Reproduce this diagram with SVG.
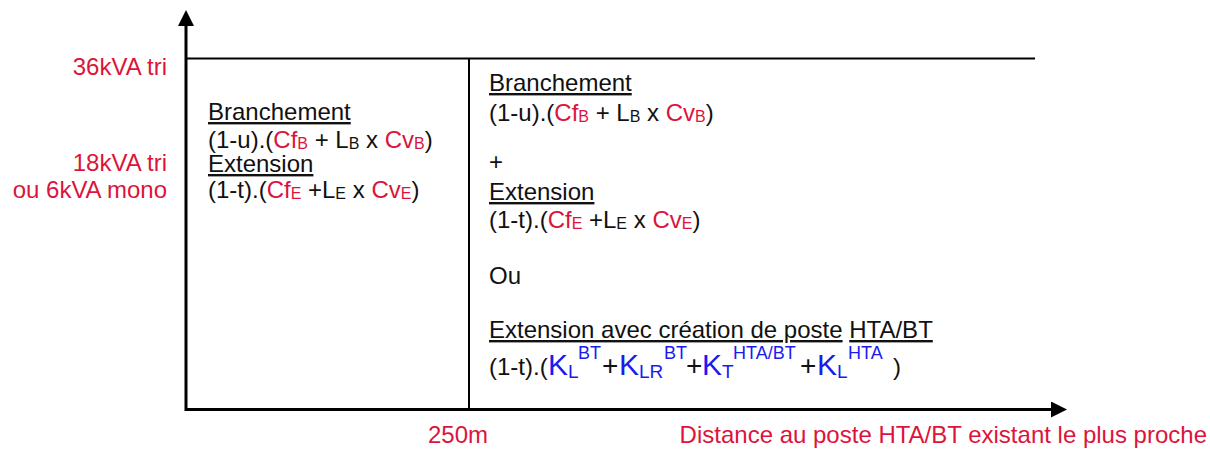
<svg xmlns="http://www.w3.org/2000/svg" width="1210" height="449" viewBox="0 0 1210 449">
<style>
text{font-family:"Liberation Sans",Arial,sans-serif;font-size:24px;fill:#111}
.r{fill:#DC143C}
.b{fill:#1a1af0}
.s{font-size:16px}
.sk{font-size:19px}
.ss{font-size:18px}
.k{font-size:30px}
.p{font-size:28px}
.u{text-decoration:underline}
.ax{stroke:#000;stroke-width:3;fill:none}
.ln{stroke:#000;stroke-width:2;fill:none}
</style>
<defs>
<marker id="ah" viewBox="0 0 16 16" refX="0" refY="8" markerWidth="16" markerHeight="16" markerUnits="userSpaceOnUse" orient="auto">
<path d="M0,0 L16,8 L0,16 Z" fill="#000"/>
</marker>
</defs>
<g id="connectors">
<line class="ax" x1="186" y1="411" x2="186" y2="26" marker-end="url(#ah)"/>
<line class="ax" x1="185" y1="409.5" x2="1051" y2="409.5" marker-end="url(#ah)"/>
<line class="ln" x1="187" y1="58.5" x2="1035" y2="58.5"/>
<line class="ln" x1="469" y1="58" x2="469" y2="409"/>
</g>
<g id="y-labels">
<text class="r" x="167" y="75" text-anchor="end">36kVA tri</text>
<text class="r" x="167" y="171" text-anchor="end">18kVA tri</text>
<text class="r" x="167" y="198" text-anchor="end">ou 6kVA mono</text>
</g>
<g id="x-labels">
<text class="r" x="428" y="443">250m</text>
<text class="r" x="1207" y="443" text-anchor="end">Distance au poste HTA/BT existant le plus proche</text>
</g>
<g id="zone-left">
<text class="u" x="208" y="120">Branchement</text>
<text x="208" y="148">(1-u).(<tspan class="r">Cf</tspan><tspan class="r s" dy="1">B</tspan><tspan dy="-1"> + L</tspan><tspan class="s" dy="1">B</tspan><tspan dy="-1"> x </tspan><tspan class="r">Cv</tspan><tspan class="r s" dy="1">B</tspan><tspan dy="-1">)</tspan></text>
<text class="u" x="208" y="172">Extension</text>
<text x="208" y="198">(1-t).(<tspan class="r">Cf</tspan><tspan class="r s" dy="1">E</tspan><tspan dy="-1"> +L</tspan><tspan class="s" dy="1">E</tspan><tspan dy="-1"> x </tspan><tspan class="r">Cv</tspan><tspan class="r s" dy="1">E</tspan><tspan dy="-1">)</tspan></text>
</g>
<g id="zone-right">
<text class="u" x="489" y="91">Branchement</text>
<text x="489" y="121">(1-u).(<tspan class="r">Cf</tspan><tspan class="r s" dy="1">B</tspan><tspan dy="-1"> + L</tspan><tspan class="s" dy="1">B</tspan><tspan dy="-1"> x </tspan><tspan class="r">Cv</tspan><tspan class="r s" dy="1">B</tspan><tspan dy="-1">)</tspan></text>
<text x="489" y="170">+</text>
<text class="u" x="489" y="200">Extension</text>
<text x="489" y="228">(1-t).(<tspan class="r">Cf</tspan><tspan class="r s" dy="1">E</tspan><tspan dy="-1"> +L</tspan><tspan class="s" dy="1">E</tspan><tspan dy="-1"> x </tspan><tspan class="r">Cv</tspan><tspan class="r s" dy="1">E</tspan><tspan dy="-1">)</tspan></text>
<text x="489" y="284">Ou</text>
<text x="489" y="338"><tspan class="u">Extension avec création de poste</tspan> <tspan class="u">HTA/BT</tspan></text>
<text y="375"><tspan x="489">(1-t).(</tspan><tspan class="b k" x="548">K</tspan><tspan class="b sk" x="568" y="378">L</tspan><tspan class="b ss" x="578" y="359">BT</tspan><tspan class="p" x="602" y="375">+</tspan><tspan class="b k" x="619">K</tspan><tspan class="b sk" x="639" y="378">LR</tspan><tspan class="b ss" x="664" y="359">BT</tspan><tspan class="p" x="686" y="375">+</tspan><tspan class="b k" x="702">K</tspan><tspan class="b sk" x="722" y="378">T</tspan><tspan class="b ss" x="733" y="359">HTA/BT</tspan><tspan class="p" x="800" y="375">+</tspan><tspan class="b k" x="817">K</tspan><tspan class="b sk" x="837" y="378">L</tspan><tspan class="b ss" x="848" y="359">HTA</tspan><tspan x="893" y="375">)</tspan></text>
</g>
</svg>
